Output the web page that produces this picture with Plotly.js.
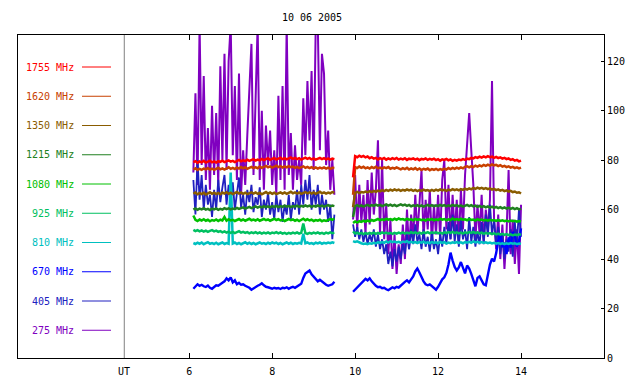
<!DOCTYPE html>
<html>
<head>
<meta charset="utf-8">
<script src="https://cdn.plot.ly/plotly-3.0.1.min.js"></script>
<style>html,body{margin:0;padding:0;background:#fff;}#chart{width:640px;height:384px;}</style>
</head>
<body>
<div id="chart"></div>
<script>
// ---- time (UT hours) ----
const t1 = [6.10,6.15,6.20,6.25,6.30,6.35,6.40,6.45,6.50,6.55,
6.60,6.65,6.70,6.75,6.80,6.85,6.90,6.95,7.00,7.05,
7.10,7.15,7.20,7.25,7.30,7.35,7.40,7.45,7.50,7.55,
7.60,7.65,7.70,7.75,7.80,7.85,7.90,7.95,8.00,8.05,
8.10,8.15,8.20,8.25,8.30,8.35,8.40,8.45,8.50,8.55,
8.60,8.65,8.70,8.75,8.80,8.85,8.90,8.95,9.00,9.05,
9.10,9.15,9.20,9.25,9.30,9.35,9.40,9.45,9.50];
const t2 = [9.95,10.00,10.05,10.10,10.15,10.20,10.25,10.30,10.35,10.40,
10.45,10.50,10.55,10.60,10.65,10.70,10.75,10.80,10.85,10.90,
10.95,11.00,11.05,11.10,11.15,11.20,11.25,11.30,11.35,11.40,
11.45,11.50,11.55,11.60,11.65,11.70,11.75,11.80,11.85,11.90,
11.95,12.00,12.05,12.10,12.15,12.20,12.25,12.30,12.35,12.40,
12.45,12.50,12.55,12.60,12.65,12.70,12.75,12.80,12.85,12.90,
12.95,13.00,13.05,13.10,13.15,13.20,13.25,13.30,13.35,13.40,
13.45,13.50,13.55,13.60,13.65,13.70,13.75,13.80,13.85,13.90,
13.95,14.00];

// ---- series (sfu) : a = first block, b = second block ----
const f275a = [75,107,70,135,78,114,72,93,68,102,
74,99,70,118,80,123,76,120,135,82,
110,72,115,66,84,70,90,112,127,74,
109,135,72,100,68,94,78,92,70,84,
66,106,72,110,68,135,74,91,68,86,
72,80,70,105,82,112,88,116,76,135,
135,84,123,115,78,92,68,80,66];
const f275b = [56,74,52,70,55,66,50,72,54,75,
58,68,88,50,80,48,62,42,56,36,
50,34,46,38,54,40,60,44,58,48,
66,50,62,76,48,64,52,68,46,62,
50,66,48,72,80,52,70,48,66,50,
64,46,68,52,74,86,99,84,70,48,
62,50,66,46,60,52,64,112,56,44,
58,40,54,36,50,76,42,56,38,52,
34,62];

const f405a = [72,58,80,64,74,60,70,62,66,57,
68,60,72,63,69,74,62,70,64,71,
60,67,73,61,66,58,68,63,70,59,
65,62,69,57,64,60,67,58,63,56,
66,59,64,55,62,58,66,56,63,60,
68,58,70,62,72,64,74,60,68,62,
70,58,66,60,64,55,62,48,58];
const f405b = [54,49,53,48,52,47,51,46,50,47,
52,45,50,44,48,42,46,38,43,37,
44,39,45,40,46,42,50,44,52,46,
54,47,50,44,52,45,49,43,51,44,
48,42,50,45,53,46,55,48,58,47,
54,45,56,48,52,44,57,47,53,45,
51,46,55,47,58,49,62,50,56,46,
53,42,50,40,48,43,52,41,55,46,
60,49];

const f670a = [28.0,29.0,29.8,29.2,29.6,29.0,28.7,29.3,28.4,28.0,
28.6,29.4,29.2,30.0,30.4,31.0,32.2,31.4,32.6,30.6,
31.4,29.8,30.4,29.6,29.8,29.2,28.8,28.4,27.6,28.2,
28.8,29.2,29.6,30.2,29.4,28.8,28.6,28.3,28.0,28.4,
28.1,28.3,27.9,28.4,28.2,28.6,28.0,28.5,28.8,28.4,
29.0,29.3,30.0,32.4,34.2,34.8,35.4,33.8,33.0,32.2,
31.0,31.6,30.8,30.2,29.6,29.2,29.4,29.8,30.8];
const f670b = [26.8,27.6,28.4,29.4,30.2,31.2,32.0,31.4,32.2,31.0,
30.0,29.2,28.6,28.8,28.2,28.4,27.8,27.4,28.0,28.6,
28.2,28.8,28.5,29.4,30.0,30.8,31.4,30.6,31.8,33.0,
35.0,36.2,34.6,32.4,31.0,29.8,29.4,29.8,29.0,28.0,
27.6,28.8,30.4,31.8,32.6,34.4,37.8,42.6,39.4,36.8,
35.4,36.6,38.8,36.0,34.2,37.4,36.2,34.0,31.0,29.0,
32.4,33.0,31.4,29.8,29.4,33.6,37.8,40.2,39.0,42.4,
47.6,50.4,44.8,46.6,42.0,48.8,44.6,51.0,49.4,45.0,
47.2,52.4];

const f810a = [46.5,46.1,46.6,46.2,46.7,46.0,46.4,46.8,46.2,46.5,
46.1,46.6,46.0,46.4,46.7,46.1,46.5,46.2,75.0,46.3,
46.7,46.1,46.5,46.0,46.4,46.8,46.2,46.6,46.1,46.5,
46.0,46.4,46.7,46.2,46.5,46.1,46.6,46.2,46.7,46.3,
46.6,46.1,46.5,46.0,46.4,46.7,46.2,46.6,46.1,46.5,
46.2,46.6,46.3,50.2,46.4,46.7,46.2,46.5,46.1,46.6,
46.3,46.7,46.2,46.6,46.3,46.7,46.4,46.8,46.5];
const f810b = [47.3,46.9,47.2,46.7,46.4,46.1,46.3,46.0,46.4,46.2,
46.6,46.3,46.8,46.5,46.9,46.6,47.1,46.7,47.2,46.8,
47.1,46.7,47.0,46.6,47.1,46.8,47.2,46.7,47.0,46.6,
46.9,46.5,46.9,46.6,47.0,46.5,46.8,46.4,46.9,46.5,
46.8,46.4,46.9,46.5,46.8,46.3,46.7,46.4,46.8,46.5,
46.9,46.5,46.8,46.4,46.9,46.6,47.0,46.6,47.1,46.7,
47.0,46.6,46.9,46.5,46.8,46.4,46.7,46.3,46.6,46.2,
46.5,46.1,46.4,46.0,46.4,46.1,46.5,46.2,46.4,46.0,
46.3,46.2];

const f925a = [51.8,51.3,51.7,51.2,51.6,51.1,51.5,51.0,51.4,51.7,
51.2,51.5,51.0,51.3,50.8,51.2,50.7,51.1,50.6,51.0,
50.5,50.9,51.3,50.7,51.0,50.6,50.9,50.4,50.8,50.5,
50.9,50.4,50.8,50.3,50.7,50.4,50.8,50.3,50.7,50.5,
50.9,50.4,50.8,50.3,50.6,50.2,50.6,50.3,50.7,50.4,
50.8,50.3,50.6,54.4,50.5,50.2,50.6,50.3,50.7,50.4,
50.8,50.3,50.6,50.2,50.7,50.4,50.8,50.5,50.7];
const f925b = [51.2,50.3,50.7,50.2,50.6,50.1,50.5,50.2,50.6,50.3,
50.7,50.2,50.6,50.3,50.8,50.4,50.7,50.3,50.6,50.2,
50.6,50.3,50.7,50.4,50.8,50.3,50.7,50.4,50.9,50.5,
50.8,50.4,50.7,50.3,50.8,50.5,50.9,50.4,50.8,50.5,
50.9,50.4,50.7,50.3,50.8,50.5,50.9,50.6,51.0,50.5,
50.8,50.4,50.7,50.3,50.8,50.5,50.9,50.6,51.0,50.5,
50.8,50.4,50.7,50.2,50.6,50.3,50.5,50.1,50.4,50.0,
50.3,49.9,50.2,49.8,50.1,49.7,50.0,49.6,49.9,49.7,
50.0,49.8];

const f1080a = [57.6,55.9,55.4,56.0,55.6,56.1,55.5,55.9,55.3,55.8,
55.5,56.0,55.4,55.9,55.6,57.0,55.5,56.1,55.6,55.9,
55.4,55.8,56.2,55.6,56.0,55.5,55.9,56.3,55.7,56.0,
55.6,56.1,55.5,55.9,56.2,55.7,56.0,55.5,55.9,56.3,
55.8,56.1,55.6,55.9,55.4,55.8,56.2,55.7,56.0,55.5,
55.9,55.4,55.8,56.3,55.7,56.1,55.6,55.9,55.4,55.8,
55.5,55.9,55.3,55.7,55.4,55.8,56.2,55.9,56.4];
const f1080b = [54.6,55.2,54.8,55.3,55.0,55.5,55.1,55.6,55.2,55.8,
55.4,55.9,56.2,55.7,56.1,55.8,56.3,55.9,56.2,55.8,
56.3,55.9,56.4,56.0,56.2,55.8,56.3,55.9,56.1,55.7,
56.2,55.8,56.1,55.7,56.0,55.6,56.1,55.8,56.2,55.7,
56.1,55.8,56.3,55.9,56.2,55.7,56.1,55.8,56.4,55.9,
56.2,55.8,56.3,55.9,56.1,55.7,56.2,55.8,56.0,55.6,
56.1,55.7,56.0,55.6,55.9,55.5,55.9,55.6,55.8,55.4,
55.8,55.4,55.7,55.3,55.6,55.2,55.6,55.3,55.5,55.1,
55.4,55.2];

const f1215a = [60.0,60.5,59.9,60.4,60.1,60.6,60.0,60.3,59.8,60.4,
60.1,60.5,59.9,60.3,60.0,60.6,60.2,60.5,60.1,60.4,
60.2,60.7,60.3,60.6,60.9,60.4,60.8,61.1,60.6,61.0,
61.3,60.8,61.2,60.9,61.4,61.0,61.3,60.9,61.4,61.1,
61.5,61.0,61.4,61.1,61.6,61.2,61.5,61.0,61.4,61.2,
61.6,61.1,61.5,61.2,61.7,61.3,61.6,61.1,61.5,61.2,
61.7,61.3,61.6,61.2,61.5,61.8,61.3,61.6,61.4];
const f1215b = [57.0,61.4,61.8,61.3,61.7,61.2,61.6,61.9,61.4,61.8,
61.5,62.0,61.6,61.9,61.4,61.8,62.1,61.6,62.0,61.5,
61.9,61.4,61.8,62.1,61.7,62.0,61.5,61.9,61.3,61.7,
61.4,61.8,61.3,61.7,61.2,61.6,61.9,61.4,61.8,61.3,
61.7,61.4,61.9,61.5,61.8,61.3,61.7,61.4,61.9,61.5,
61.8,61.3,61.7,61.2,61.6,61.9,61.4,61.8,61.3,61.6,
61.1,61.5,61.0,61.4,60.9,61.3,60.8,61.2,60.7,61.1,
60.6,61.0,60.5,60.9,60.4,60.8,60.3,60.7,60.2,60.6,
60.1,60.4];

const f1350a = [66.4,66.9,66.2,66.7,66.3,66.8,66.1,66.6,67.0,66.4,
66.8,66.3,66.7,66.2,66.9,66.5,67.0,66.4,66.8,66.3,
66.7,67.1,66.5,66.9,66.4,66.8,66.3,66.7,67.0,66.5,
66.9,66.4,66.8,66.2,66.7,67.1,66.5,66.9,66.4,66.8,
66.3,66.7,67.0,66.5,66.9,66.4,66.8,67.2,66.6,67.0,
66.5,66.9,66.4,66.8,67.1,66.6,67.0,66.5,66.9,66.4,
66.8,67.2,66.6,67.0,66.5,66.9,66.6,67.1,66.8];
const f1350b = [61.0,66.8,67.2,66.7,67.1,66.9,67.3,67.0,67.5,67.1,
67.6,67.2,67.7,67.4,67.9,67.5,68.0,67.6,68.1,67.7,
68.2,67.8,68.1,67.6,68.0,67.7,68.2,67.8,68.1,67.6,
68.0,67.5,67.9,67.6,68.1,67.7,67.9,67.5,68.0,67.6,
68.1,67.7,68.2,67.8,68.0,67.6,68.1,67.8,68.3,67.9,
68.2,67.8,68.3,68.0,68.5,68.1,68.6,68.2,68.8,68.4,
68.9,68.5,68.8,68.4,68.7,68.3,68.6,68.1,68.4,67.9,
68.2,67.7,68.0,67.5,67.8,67.3,67.6,67.1,67.3,66.8,
67.0,66.5];

const f1620a = [76.2,76.7,76.0,76.5,76.1,76.6,76.3,76.8,76.2,76.6,
76.1,76.5,76.9,76.3,76.7,76.2,76.8,77.1,76.5,76.9,
76.4,77.0,76.6,77.2,76.7,77.1,76.5,77.0,77.3,76.8,
77.2,76.7,77.4,76.9,77.3,77.7,77.1,77.5,77.0,77.4,
77.8,77.2,77.6,77.0,77.5,77.1,77.6,77.2,77.4,76.9,
77.3,76.8,77.2,77.5,76.9,77.3,76.8,77.2,76.7,77.1,
76.6,77.0,76.7,77.1,76.6,77.0,76.5,76.9,76.8];
const f1620b = [66.0,77.2,76.8,77.4,76.9,77.3,76.7,77.1,76.6,77.2,
76.8,77.3,76.7,77.0,76.6,77.1,76.8,77.2,76.5,76.9,
76.6,77.1,76.7,76.3,76.8,76.4,76.9,76.2,76.7,76.3,
76.8,76.1,76.6,76.0,76.5,76.2,76.6,75.9,76.4,76.1,
76.5,76.0,76.4,76.1,76.6,76.2,76.8,76.4,76.9,76.5,
77.0,76.6,77.1,76.7,77.3,77.5,77.1,77.6,77.2,77.8,
77.4,77.9,77.5,78.1,77.7,78.2,77.8,78.3,77.9,78.1,
77.6,78.0,77.4,77.7,77.2,77.5,77.0,77.3,76.8,77.1,
76.7,77.0];

const f1755a = [79.2,79.6,78.9,79.5,79.1,79.7,79.0,79.4,79.8,79.1,
79.5,79.0,79.6,79.3,79.8,79.2,79.6,79.9,79.4,79.7,
79.2,79.8,80.1,79.5,79.9,79.6,80.2,79.7,80.0,80.4,
79.8,80.2,79.9,80.5,80.0,80.3,80.8,80.1,80.5,80.9,
80.2,80.6,81.0,80.4,80.8,80.3,80.7,81.1,80.5,80.9,
80.4,80.8,80.2,80.6,81.0,80.5,80.9,80.3,80.7,80.2,
80.6,80.9,80.4,80.8,80.3,80.7,80.2,80.6,80.4];
const f1755b = [73.0,81.6,81.2,81.8,81.3,81.7,81.1,81.5,80.8,81.2,
80.6,80.9,80.3,80.8,80.4,80.9,80.2,80.7,80.3,80.8,
80.4,80.9,80.2,80.6,80.3,80.8,80.1,80.6,80.4,80.7,
80.2,80.6,80.0,80.5,80.3,80.7,80.1,80.5,80.2,80.6,
80.0,80.4,79.8,80.3,80.1,80.5,79.9,80.3,79.7,80.1,
79.8,80.2,80.0,80.4,80.1,80.6,80.4,80.9,80.7,81.2,
80.9,81.4,81.0,81.5,81.1,81.6,81.2,81.4,80.9,81.3,
80.8,81.1,80.6,80.9,80.4,80.7,80.1,80.4,79.8,80.1,
79.5,79.8];

// ---- legend labels ----
const labels = ['1755 MHz','1620 MHz','1350 MHz','1215 MHz','1080 MHz','925 MHz','810 MHz','670 MHz','405 MHz','275 MHz'];
const xTicks = [6,8,10,12,14];
const yTicks = [0,20,40,60,80,100,120];
const title = '10 06 2005';

// ---- styles ----
const colors = {
  '1755 MHz':'#ff0000','1620 MHz':'#c84000','1350 MHz':'#8a5c00','1215 MHz':'#208020',
  '1080 MHz':'#00c000','925 MHz':'#00c060','810 MHz':'#00c0c0','670 MHz':'#0000ff',
  '405 MHz':'#2020c0','275 MHz':'#8000c0'
};
const widths = {'275 MHz':2,'405 MHz':1.8,'670 MHz':2.4};
const series = [
  ['275 MHz', f275a, f275b],
  ['405 MHz', f405a, f405b],
  ['670 MHz', f670a, f670b],
  ['810 MHz', f810a, f810b],
  ['925 MHz', f925a, f925b],
  ['1080 MHz', f1080a, f1080b],
  ['1215 MHz', f1215a, f1215b],
  ['1350 MHz', f1350a, f1350b],
  ['1620 MHz', f1620a, f1620b],
  ['1755 MHz', f1755a, f1755b]
];

const traces = [];
series.forEach(([name, a, b]) => {
  [[t1, a], [t2, b]].forEach(([x, y]) => {
    traces.push({
      type:'scatter', mode:'lines', x:x, y:y, name:name,
      line:{color:colors[name], width:widths[name] || 2.5},
      hoverinfo:'skip', showlegend:false
    });
  });
});

const font = {family:'DejaVu Sans Mono, monospace', size:10, color:'#000'};
const L = 18, R = 604, T = 35, B = 358;
const px2paperX = p => (p - L) / (R - L);
const px2paperY = p => (B - p) / (B - T);

const annotations = [];
const shapes = [];
labels.forEach((lab, i) => {
  const yp = px2paperY(67 + i * 29.25);
  annotations.push({
    xref:'paper', yref:'paper', x:px2paperX(76), y:yp, xanchor:'right', yanchor:'middle',
    text:lab, showarrow:false, font:{family:font.family, size:10, color:colors[lab]}
  });
  shapes.push({
    type:'line', xref:'paper', yref:'paper', x0:px2paperX(82), x1:px2paperX(111), y0:yp, y1:yp,
    line:{color:colors[lab], width:1}
  });
});
// UT separator
shapes.push({type:'line', xref:'x', yref:'paper', x0:4.434, x1:4.434, y0:0, y1:1, line:{color:'#808080', width:1}});
annotations.push({xref:'x', yref:'paper', x:4.434, y:px2paperY(371), xanchor:'center', yanchor:'middle',
  text:'UT', showarrow:false, font:font});

const layout = {
  width:640, height:384,
  margin:{l:L, r:640-R, t:T, b:384-B, pad:0},
  paper_bgcolor:'#ffffff', plot_bgcolor:'#ffffff',
  showlegend:false,
  title:{text:title, font:font, x:px2paperX(312), xref:'paper', xanchor:'center', y:1-17/384, yref:'container', yanchor:'middle'},
  xaxis:{range:[1.872,16.0], tickvals:xTicks, ticktext:xTicks.map(String), ticks:'inside', ticklen:5, tickwidth:1,
    tickcolor:'#000', showline:true, linecolor:'#000', linewidth:1, mirror:'ticks', showgrid:false, zeroline:false,
    tickfont:font, ticklabelstandoff:4, fixedrange:true},
  yaxis:{range:[0,130.6], side:'right', tickvals:yTicks, ticktext:yTicks.map(String), ticks:'inside', ticklen:3,
    tickwidth:1, tickcolor:'#000', showline:true, linecolor:'#000', linewidth:1, mirror:true, showgrid:false,
    zeroline:false, tickfont:font, fixedrange:true},
  annotations:annotations,
  shapes:shapes
};

Plotly.newPlot('chart', traces, layout, {staticPlot:true, displayModeBar:false});
</script>
</body>
</html>
